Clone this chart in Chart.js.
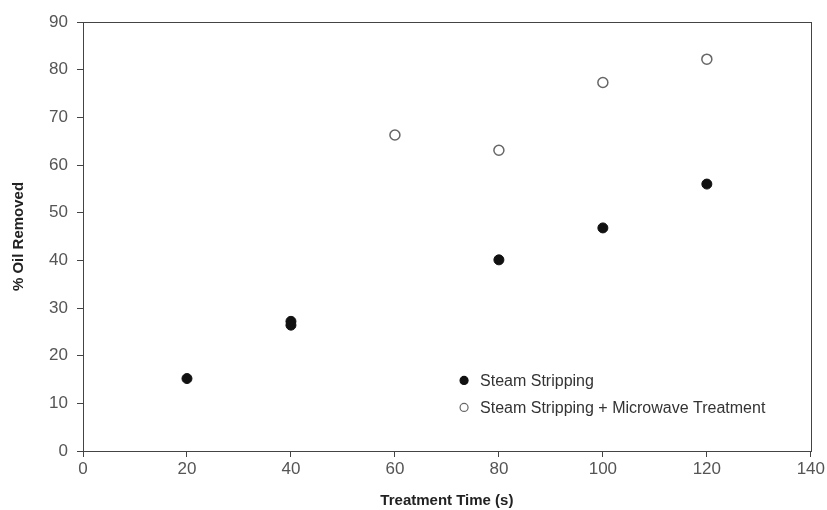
<!DOCTYPE html>
<html>
<head>
<meta charset="utf-8">
<script src="https://cdn.jsdelivr.net/npm/chart.js@4/dist/chart.umd.min.js"></script>
<style>
  html, body { margin: 0; padding: 0; background: #fff; }
  #wrap { width: 827px; height: 510px; }
</style>
</head>
<body>
<div id="wrap"><canvas id="oilChart"></canvas></div>
<script>
// Treatment time (s) and % oil removed
const steamTimes = [20, 40, 40, 80, 100, 120];
const steamRemoved = [15.2, 27.2, 26.4, 40.1, 46.8, 56.0];
const microTimes = [60, 80, 100, 120];
const microRemoved = [66.3, 63.1, 77.3, 82.2];

const seriesNames = ['Steam Stripping', 'Steam Stripping + Microwave Treatment'];

const toPoints = (xs, ys) => xs.map((x, i) => ({ x: x, y: ys[i] }));

// box around the plot and the legend inside it
const frameAndLegend = {
    id: 'frameAndLegend',
    afterDatasetsDraw(chart) {
        const ctx = chart.ctx;
        const a = chart.chartArea;
        ctx.save();
        ctx.strokeStyle = '#444';
        ctx.lineWidth = 1;
        ctx.strokeRect(Math.round(a.left) + 0.5, Math.round(a.top) + 0.5,
            Math.round(a.right - a.left), Math.round(a.bottom - a.top));

        const x0 = chart.scales.x.getPixelForValue(73.3);
        const y0 = chart.scales.y.getPixelForValue(14.8);
        chart.data.datasets.forEach((ds, i) => {
            const y = y0 + i * 27;
            ctx.beginPath();
            ctx.arc(x0, y, 4, 0, Math.PI * 2);
            ctx.fillStyle = ds.pointBackgroundColor;
            ctx.fill();
            ctx.lineWidth = 1.2;
            ctx.strokeStyle = ds.pointBorderColor;
            ctx.stroke();
            ctx.fillStyle = '#333';
            ctx.font = '16px "Liberation Sans", Arial, sans-serif';
            ctx.textBaseline = 'middle';
            ctx.fillText(ds.label, x0 + 16, y + 1);
        });
        ctx.restore();
    }
};

document.addEventListener('DOMContentLoaded', function () {
    const ctx = document.getElementById('oilChart').getContext('2d');
    const tickFont = { family: '"Liberation Sans", Arial, sans-serif', size: 17 };
    const titleFont = { family: '"Liberation Sans", Arial, sans-serif', size: 15, weight: 'bold' };

    new Chart(ctx, {
        type: 'scatter',
        data: {
            datasets: [{
                label: seriesNames[0],
                data: toPoints(steamTimes, steamRemoved),
                pointRadius: 5,
                pointBackgroundColor: '#111',
                pointBorderColor: '#111',
                pointBorderWidth: 1
            }, {
                label: seriesNames[1],
                data: toPoints(microTimes, microRemoved),
                pointRadius: 5,
                pointBackgroundColor: '#fff',
                pointBorderColor: '#666',
                pointBorderWidth: 1.5
            }]
        },
        options: {
            responsive: true,
            maintainAspectRatio: false,
            animation: false,
            layout: { padding: { top: 22, right: 11, left: 0, bottom: 0 } },
            plugins: {
                legend: { display: false },
                tooltip: { enabled: false }
            },
            scales: {
                x: {
                    type: 'linear',
                    min: 0,
                    max: 140,
                    afterFit(scale) { scale.height = 59; },
                    ticks: { stepSize: 20, color: '#555', font: tickFont, padding: 2 },
                    grid: { drawOnChartArea: false, drawTicks: true, tickLength: 6, color: '#444' },
                    border: { display: true, color: '#444' },
                    title: {
                        display: true,
                        text: 'Treatment Time (s)',
                        color: '#222',
                        font: titleFont,
                        padding: { top: 0, bottom: 0 }
                    }
                },
                y: {
                    min: 0,
                    max: 90,
                    afterFit(scale) { scale.width = 83; },
                    ticks: { stepSize: 10, color: '#555', font: tickFont, padding: 9 },
                    grid: { drawOnChartArea: false, drawTicks: true, tickLength: 6, color: '#444' },
                    border: { display: true, color: '#444' },
                    title: {
                        display: true,
                        text: '% Oil Removed',
                        color: '#222',
                        font: titleFont,
                        padding: { top: 10, bottom: 0 }
                    }
                }
            }
        },
        plugins: [frameAndLegend]
    });
});
</script>
</body>
</html>
